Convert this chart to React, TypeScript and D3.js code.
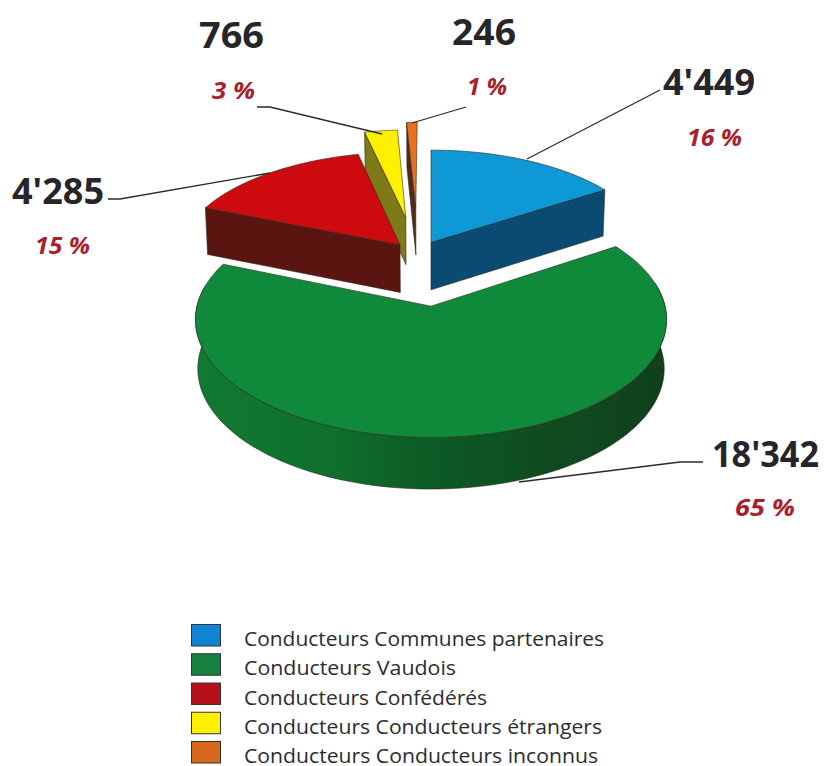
import React from "react";
import * as d3 from "d3";

const categories = [
  "Conducteurs Communes partenaires",
  "Conducteurs Vaudois",
  "Conducteurs Confédérés",
  "Conducteurs Conducteurs étrangers",
  "Conducteurs Conducteurs inconnus",
];
const values = [4449, 18342, 4285, 766, 246];
const percents = [16, 65, 15, 3, 1];
const topColors = ["#0f98d6", "#0f8a3a", "#cc0a10", "#fff000", "#e8701e"];
const wallColors = ["#0b4a72", "url(#greenWall)", "#5a1510", "#7f7a18", "#55281f"];
const legendColors = ["#0f84d2", "#15803f", "#b50f1c", "#fff000", "#d8681c"];

// ground-plane displacement of each exploded slice
const explodeX = [0, 0, -0.141, -0.118, -0.072];
const explodeY = [0.235, -0.35, 0.21, 0.482, 0.58];

const CX = 431, CY = 267, R = 225, Q = 107.5, K = 0.11, DEPTH = 48;

const locale = d3.formatLocale({ decimal: ".", thousands: "'", grouping: [3], currency: ["", ""] });
const fmt = locale.format(",d");

const labelPos = [
  { x: 663, y: 95, w: 92, fs: 36, px: 687, py: 146, pw: 55 },
  { x: 712, y: 467, w: 107, fs: 36, px: 735, py: 516, pw: 60 },
  { x: 12, y: 204, w: 92, fs: 36, px: 35, py: 254, pw: 55 },
  { x: 199, y: 48, w: 65, fs: 35, px: 212, py: 99, pw: 43 },
  { x: 452, y: 45, w: 64, fs: 36, px: 467, py: 95, pw: 40 },
];
const legendWidths = [360, 212, 243, 358, 354];
const leaders = [
  [[527, 159], [660, 90]],
  [[519, 482], [680, 462], [703, 462]],
  [[108, 199], [120, 199], [270, 173]],
  [[257, 107], [270, 107], [382, 134]],
  [[412, 123], [466, 107]],
];

function project(X: number, Y: number, z = 0) {
  const s = 1 / (1 + K * Y);
  const zs = 1 - 0.01 * z;
  return [CX + X * R * s * zs, CY - Y * Q * s + z * DEPTH * Math.pow(s, 0.45)] as [number, number];
}

const legendYScale = d3.scalePoint<number>().domain(d3.range(5)).range([624, 741]);
const line = d3.line();

export default function App() {
  const arcs = d3.pie<number>().sort(null)(values);
  const order = [4, 3, 2, 0, 1];
  const N = 120;
  const slices = order.map((i) => {
    const a = arcs[i];
    const ex = explodeX[i], ey = explodeY[i];
    const pt = (t: number, r: number, z = 0) =>
      project(ex + r * Math.sin(t), ey + r * Math.cos(t), z);
    const angles = d3.range(N + 1).map((k) => a.startAngle + ((a.endAngle - a.startAngle) * k) / N);
    const top = [pt(0, 0), ...angles.map((t) => pt(t, 1))];
    const near = angles.filter((t) => Math.cos(t) < 0.2);
    const wall = near.length
      ? [...near.map((t) => pt(t, 1)), ...near.slice().reverse().map((t) => pt(t, 1, 1))]
      : null;
    const face = (t: number) => [pt(t, 0), pt(t, 1), pt(t, 1, 1), pt(t, 0, 1)];
    const faces: [number, number][][] = [];
    if (Math.sin(a.startAngle) < -1e-6) faces.push(face(a.startAngle));
    if (Math.sin(a.endAngle) > 1e-6) faces.push(face(a.endAngle));
    return { i, top, wall, faces };
  });

  return (
    <svg
      width={824}
      height={766}
      viewBox="0 0 824 766"
      style={{ position: "absolute", left: 0, top: 0, background: "#fff" }}
    >
      <defs>
        <linearGradient id="greenWall" gradientUnits="userSpaceOnUse" x1={195} x2={666} y1={0} y2={0}>
          <stop offset="0" stopColor="#107a32" />
          <stop offset="0.3" stopColor="#0f6f2c" />
          <stop offset="0.5" stopColor="#0d5a25" />
          <stop offset="0.72" stopColor="#0f4d20" />
          <stop offset="1" stopColor="#103f1c" />
        </linearGradient>
      </defs>
      {slices.map((s) => (
        <g key={s.i} stroke="#2a2a1a" strokeWidth={0.6} strokeLinejoin="round">
          {s.wall && <path d={line(s.wall)! + "Z"} fill={wallColors[s.i]} />}
          {s.faces.map((f, k) => (
            <path key={k} d={line(f)! + "Z"} fill={wallColors[s.i]} />
          ))}
          <path d={line(s.top)! + "Z"} fill={topColors[s.i]} />
        </g>
      ))}
      {leaders.map((l, i) => (
        <path key={i} d={line(l as [number, number][])!} fill="none" stroke="#2b2b2b" strokeWidth={1.3} />
      ))}
      {values.map((v, i) => (
        <text
          key={i}
          x={labelPos[i].x}
          y={labelPos[i].y}
          textLength={labelPos[i].w}
          lengthAdjust="spacingAndGlyphs"
          fontFamily="'Open Sans'"
          fontWeight={700}
          fontSize={labelPos[i].fs}
          fill="#26262a"
        >
          {fmt(v)}
        </text>
      ))}
      {percents.map((p, i) => (
        <text
          key={i}
          x={labelPos[i].px}
          y={labelPos[i].py}
          textLength={labelPos[i].pw}
          lengthAdjust="spacingAndGlyphs"
          fontFamily="'Open Sans'"
          fontStyle="italic"
          fontWeight={700}
          fontSize={24}
          fill="#a9202c"
        >
          {`${p} %`}
        </text>
      ))}
      {categories.map((c, i) => (
        <g key={c}>
          <rect
            x={191.5}
            y={legendYScale(i)! + 0.5}
            width={29}
            height={21.5}
            fill={legendColors[i]}
            stroke="#333"
            strokeWidth={1}
          />
          <text
            x={244}
            y={legendYScale(i)! + 22}
            textLength={legendWidths[i]}
            lengthAdjust="spacingAndGlyphs"
            fontFamily="'Open Sans'"
            fontSize={20}
            fill="#2c2c30"
          >
            {c}
          </text>
        </g>
      ))}
    </svg>
  );
}
